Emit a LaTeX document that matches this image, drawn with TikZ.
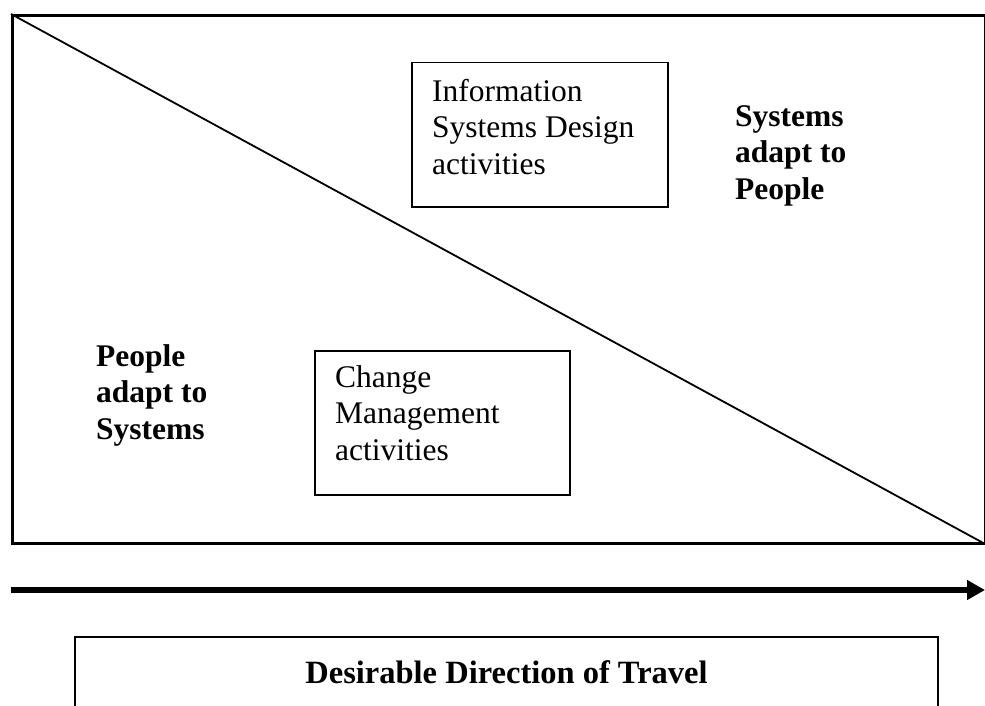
\documentclass[tikz,border=0pt]{standalone}
\usepackage{fontspec}
\setmainfont{Liberation Serif}
\usetikzlibrary{arrows.meta}
\begin{document}
\begin{tikzpicture}[x=1pt,y=-1pt,
  box/.style={draw, line width=1.5pt, inner sep=0pt, anchor=north west},
  txt/.style={anchor=base west, align=left, inner sep=0pt, font=\fontsize{31.5}{36.5}\selectfont},
  btxt/.style={txt, font=\fontsize{31.5}{36.5}\selectfont\bfseries}]
\useasboundingbox (0,0) rectangle (985,706);
% main frame
\node[draw, line width=3pt, inner sep=0pt, anchor=north west, minimum width=973pt, minimum height=528pt] (frame) at (11,14) {};
\draw[line width=1.8pt] (frame.north west) -- (frame.south east);
% boxes
\node[box, minimum width=256pt, minimum height=144pt] (isd) at (411,62) {};
\node[box, minimum width=255pt, minimum height=144pt] (cm) at (314,350) {};
% text nodes (anchored at the baseline of their last line)
\node[txt] (isdt) at (432,174.5) {Information\\Systems Design\\activities};
\node[txt] (cmt) at (335,460) {Change\\Management\\activities};
\node[btxt] (sap) at (735,199) {Systems\\adapt to\\People};
\node[btxt] (pas) at (96,439) {People\\adapt to\\Systems};
% arrow
\coordinate (a0) at (11,590);
\coordinate (a1) at (985,590);
\draw[line width=6pt, -{Triangle[length=18pt,width=19pt]}] (a0) -- (a1);
% bottom box
\node[draw, line width=1.3pt, inner sep=0pt, minimum width=863pt, minimum height=70pt,
  font=\fontsize{32.5}{37}\selectfont\bfseries] (dir) at (506.5,672) {Desirable Direction of Travel};
\end{tikzpicture}
\end{document}
